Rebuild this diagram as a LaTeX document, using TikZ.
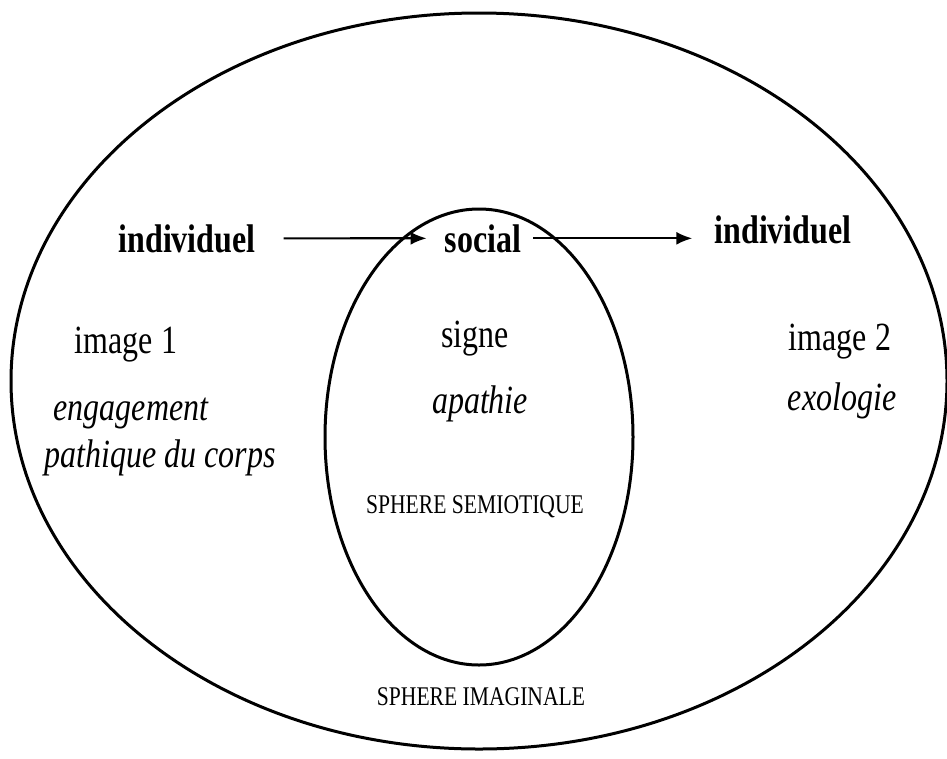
\documentclass[tikz,border=0pt]{standalone}
\usepackage{fontspec}
\setmainfont[FakeStretch=0.8]{Liberation Serif}
\usetikzlibrary{arrows.meta}
\begin{document}
\begin{tikzpicture}[x=1pt,y=-1pt,
    word/.style={anchor=base,inner sep=2pt,font=\fontsize{40}{46}\selectfont},
    key/.style={word,font=\fontsize{40}{46}\selectfont\bfseries},
    gloss/.style={word,font=\fontsize{40}{46}\selectfont\itshape},
    sphere/.style={word,font=\fontsize{27}{32}\selectfont},
    flow/.style={-{Latex[length=16pt,width=13pt]},line width=2.2pt}]
      \useasboundingbox (0,0) rectangle (947,758);
      \draw[line width=3pt] (479,381) ellipse [x radius=468, y radius=368];
      \draw[line width=3pt] (479,437) ellipse [x radius=154, y radius=228];
      \node[key] (ind1) at (187,252) {individuel};
      \node[key] (soc) at (483,252) {social};
      \node[key] (ind2) at (783,243) {individuel};
      \node[word] (img1) at (126,353) {image 1};
      \node[gloss] (eng) at (131,420) {engagement};
      \node[gloss] (path) at (160,467) {pathique du corps};
      \node[word] (sig) at (475,347) {signe};
      \node[gloss] (apa) at (480,413) {apathie};
      \node[sphere] (semio) at (475,513) {SPHERE SEMIOTIQUE};
      \node[word] (img2) at (840,350) {image 2};
      \node[gloss] (exo) at (842,410) {exologie};
      \node[sphere] (imag) at (481,705) {SPHERE IMAGINALE};
      \begin{scope}
        \draw[flow] ([xshift=26pt]ind1.east) -- ([xshift=-16pt]soc.west);
        \draw[flow] ([xshift=10pt]soc.east) -- ([xshift=-20pt]ind2.west |- soc.east);
      \end{scope}
    \end{tikzpicture}
\end{document}
